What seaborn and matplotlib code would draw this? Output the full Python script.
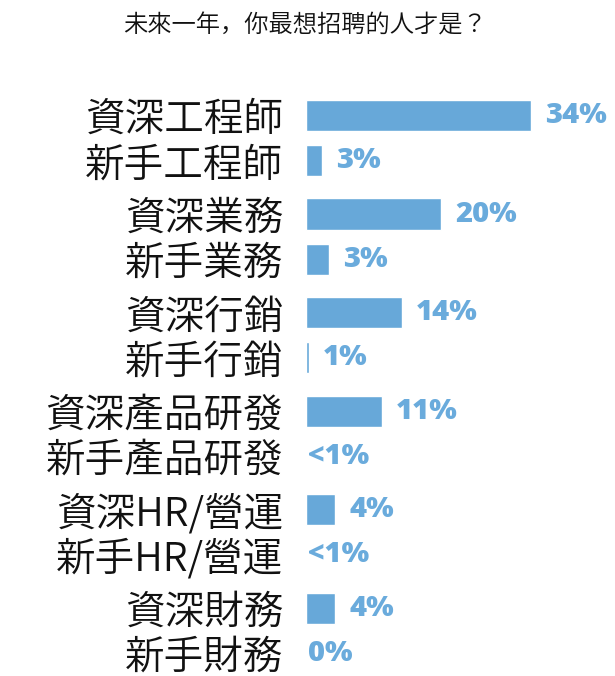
import numpy as np
import pandas as pd
import matplotlib
matplotlib.use("Agg")
import matplotlib.pyplot as plt
import seaborn as sns

# Chart content
title = "未來一年，你最想招聘的人才是？"
roles = ["資深工程師", "新手工程師", "資深業務", "新手業務", "資深行銷", "新手行銷",
         "資深產品研發", "新手產品研發", "資深HR/營運", "新手HR/營運", "資深財務", "新手財務"]
# bar lengths as drawn in the picture (percent)
bar_lengths = [34, 2.4, 20.4, 3.5, 14.5, 0.4, 11.5, 0, 4.4, 0, 4.4, 0]
value_labels = ["34%", "3%", "20%", "3%", "14%", "1%", "11%", "<1%", "4%", "<1%", "4%", "0%"]

bar_color = "#67a8d9"
text_color = "#6aabdc"

sns.set_theme(style="white")
plt.rcParams["font.family"] = ["Noto Sans CJK JP", "DejaVu Sans"]

# rows come in senior/junior pairs, junior row sits a bit closer to its senior row
pair_gap = 0.92
positions = [(i // 2) * 2 + (i % 2) * pair_gap for i in range(len(roles))]

df = pd.DataFrame({"role": roles, "length": bar_lengths, "pos": positions})

fig = plt.figure(figsize=(6.15, 6.76), dpi=100)
ax = fig.add_axes([306 / 615, 0, 309 / 615, 1])

sns.barplot(data=df, x="length", y="pos", orient="y", native_scale=True,
            color=bar_color, saturation=1, width=0.63 / pair_gap, ax=ax)

ax.set_xlim(0, 309 / 6.62)
ax.set_ylim(11.38, -2.345)

ax.set_yticks(positions, roles)
ax.tick_params(axis="y", length=0, pad=16.5, labelsize=28.5, labelcolor="#111111")
for lab in ax.get_yticklabels():
    lab.set_fontweight(350)
ax.set_xticks([])
ax.set_xlabel("")
ax.set_ylabel("")
sns.despine(ax=ax, left=True, bottom=True)

for length, pos, lab in zip(bar_lengths, positions, value_labels):
    gap = 10 if length > 0 else 1.5
    ax.annotate(lab, (length, pos), xytext=(gap, 0), textcoords="offset points",
                va="center", ha="left", fontsize=21, fontweight="heavy",
                family=["Open Sans", "DejaVu Sans"], color=text_color)

fig.text(305 / 615, 1 - 25 / 676, title, ha="center", va="center",
         fontsize=17.5, color="#111111", fontweight=350)

fig.savefig("out.png", dpi=100)
